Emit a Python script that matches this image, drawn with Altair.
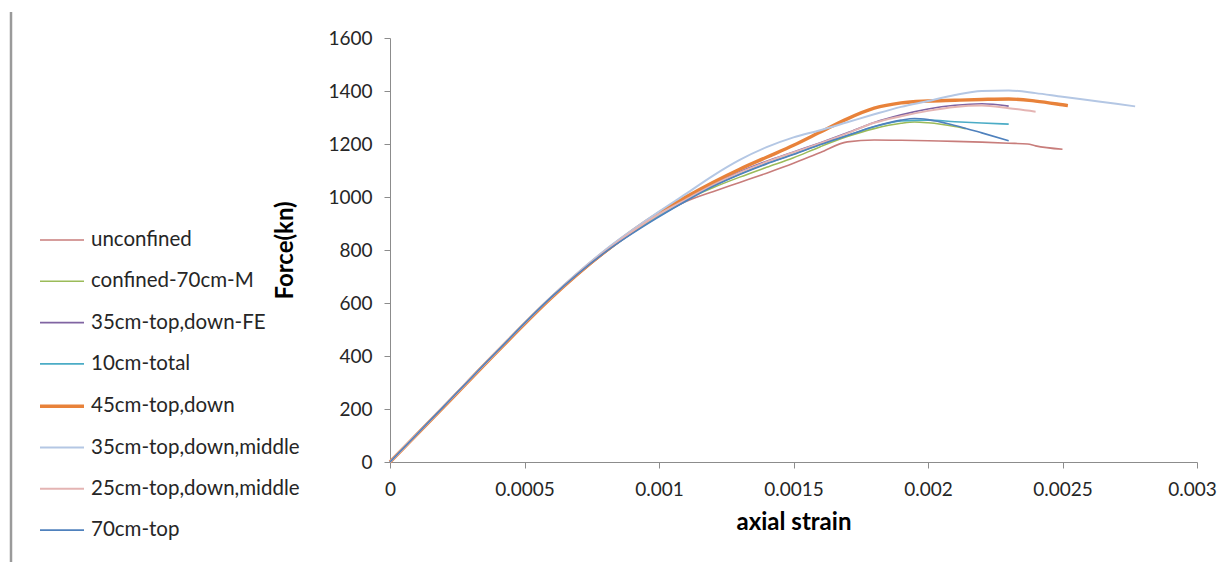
import altair as alt
import pandas as pd

series = [
    "unconfined",
    "confined-70cm-M",
    "35cm-top,down-FE",
    "10cm-total",
    "45cm-top,down",
    "35cm-top,down,middle",
    "25cm-top,down,middle",
    "70cm-top",
]
colors = ["#C87D7B", "#9BBB59", "#8064A2", "#4BACC6", "#E8823A", "#B4C7E4", "#E4B4B3", "#4F81BD"]
widths = [1.6, 1.6, 1.6, 1.6, 3.4, 2.0, 2.0, 1.6]

base_x = [0, 0.0002, 0.0004, 0.0006, 0.0008, 0.001, 0.0011, 0.0012, 0.0013, 0.0014,
          0.0015, 0.0016, 0.0017, 0.0018, 0.0019]

unconfined_x = base_x + [0.002, 0.0021, 0.0022, 0.0023, 0.00237, 0.0024, 0.0025]
unconfined_y = [0, 210, 420, 620, 790, 930, 983, 1020, 1055, 1090,
                1127, 1168, 1208, 1215, 1214, 1212, 1210, 1207, 1203, 1200, 1193, 1180]

confined_x = base_x + [0.00195, 0.002, 0.0021, 0.00214]
confined_y = [0, 210, 420, 622, 795, 935, 990, 1035, 1075, 1112,
              1148, 1190, 1228, 1258, 1278, 1283, 1280, 1266, 1258]

fe35_x = base_x + [0.002, 0.0021, 0.0022, 0.0023]
fe35_y = [0, 210, 420, 622, 795, 938, 995, 1048, 1095, 1135,
          1170, 1205, 1242, 1281, 1310, 1332, 1346, 1352, 1343]

total10_x = base_x + [0.002, 0.0021, 0.0022, 0.0023]
total10_y = [0, 210, 420, 622, 792, 928, 985, 1040, 1087, 1127,
             1162, 1198, 1232, 1265, 1287, 1290, 1284, 1279, 1275]

td45_x = base_x + [0.002, 0.0021, 0.0022, 0.0023, 0.0024, 0.0025, 0.00252]
td45_y = [0, 208, 418, 620, 795, 940, 1000, 1055, 1105, 1150,
          1195, 1245, 1295, 1335, 1355, 1362, 1365, 1368, 1370, 1362, 1348, 1345]

tdm35_x = base_x + [0.002, 0.0021, 0.0022, 0.0023, 0.0024, 0.0025, 0.0026, 0.0027, 0.00277]
tdm35_y = [0, 210, 420, 624, 800, 945, 1012, 1080, 1140, 1188,
           1225, 1252, 1282, 1312, 1340, 1362, 1385, 1400, 1402, 1392, 1378, 1365, 1352, 1342]

tdm25_x = base_x + [0.002, 0.0021, 0.0022, 0.0023, 0.0024]
tdm25_y = [0, 210, 420, 622, 795, 935, 990, 1045, 1092, 1132,
           1168, 1203, 1240, 1280, 1305, 1325, 1340, 1345, 1335, 1322]

top70_x = base_x + [0.00195, 0.002, 0.0021, 0.0022, 0.0023]
top70_y = [0, 210, 420, 622, 792, 925, 985, 1040, 1085, 1125,
           1160, 1198, 1232, 1266, 1290, 1296, 1292, 1270, 1242, 1212]

xs_all = [unconfined_x, confined_x, fe35_x, total10_x, td45_x, tdm35_x, tdm25_x, top70_x]
ys_all = [unconfined_y, confined_y, fe35_y, total10_y, td45_y, tdm35_y, tdm25_y, top70_y]

x_ticks = [0, 0.0005, 0.001, 0.0015, 0.002, 0.0025, 0.003]
y_ticks = [0, 200, 400, 600, 800, 1000, 1200, 1400, 1600]

rows = []
for k, (name, xs, ys) in enumerate(zip(series, xs_all, ys_all)):
    for i, (a, b) in enumerate(zip(xs, ys)):
        rows.append({"series": name, "strain": a, "force": b, "idx": i, "k": k})
df = pd.DataFrame(rows)

FONT = "Lato"

lines = alt.Chart(df).mark_line(interpolate="monotone").encode(
    x=alt.X("strain:Q", scale=alt.Scale(domain=[0, 0.003], nice=False),
            axis=alt.Axis(values=x_ticks, format=".4~f", title="axial strain",
                          titleY=60, titleBaseline="middle", labelFlush=False,
                          labelOffset={"condition": {"test": "datum.value > 0.0029", "value": -5},
                                       "value": 0})),
    y=alt.Y("force:Q", scale=alt.Scale(domain=[0, 1600], nice=False),
            axis=alt.Axis(values=y_ticks, format="d", title="Force(kn)", titleX=-105,
                          titleBaseline="middle", labelFlush=False)),
    color=alt.Color("series:N", scale=alt.Scale(domain=series, range=colors),
                    legend=alt.Legend(title=None)),
    strokeWidth=alt.StrokeWidth("series:N",
                                scale=alt.Scale(type="ordinal", domain=series, range=widths),
                                legend=alt.Legend(title=None)),
    order=alt.Order("idx:Q"),
)

frame = alt.Chart(pd.DataFrame({"a": [0]})).mark_rule(color="#9A9A9A", strokeWidth=2.5).encode(
    x=alt.value(-379), y=alt.value(-26), y2=alt.value(530)
)

chart = alt.layer(frame, lines).properties(
    width=807, height=424,
    autosize=alt.AutoSizeParams(type="none"),
    padding={"left": 382, "top": 30, "right": 20, "bottom": 100},
).configure_view(stroke=None).configure_axis(
    grid=False,
    domainColor="#8C8C8C",
    tickColor="#8C8C8C",
    domainWidth=1,
    tickWidth=1,
    tickSize=6,
    labelFont=FONT,
    labelFontSize=19,
    labelColor="#262626",
    labelPadding=12,
    titleFont=FONT,
    titleFontSize=24,
    titleFontWeight="bold",
    titleColor="#000000",
).configure_legend(
    orient="none",
    legendX=-352,
    legendY=179,
    symbolType="stroke",
    symbolSize=1936,
    labelFont=FONT,
    labelFontSize=20.5,
    labelColor="#262626",
    labelOffset=5,
    labelLimit=400,
    rowPadding=7.3,
)

chart.save("out.html", embed_options={"renderer": "svg", "actions": False})
